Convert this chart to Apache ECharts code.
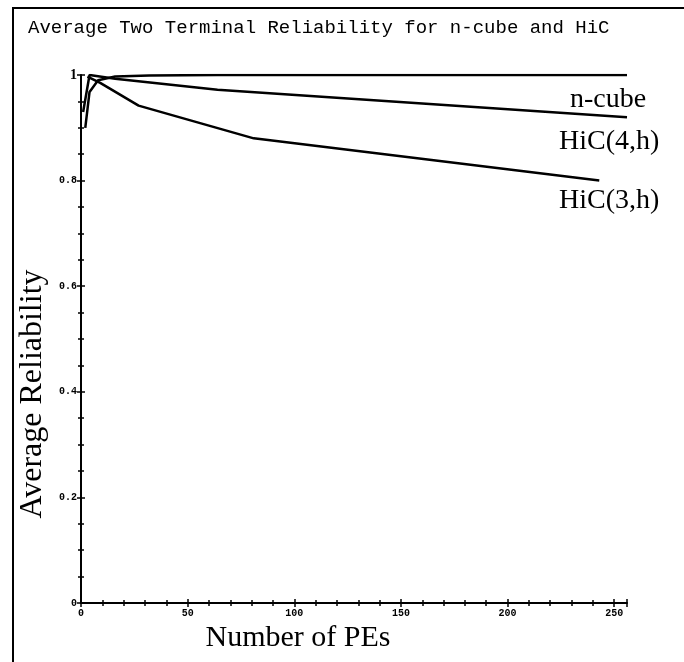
<!DOCTYPE html>
<html><head><meta charset="utf-8">
<script src="https://cdn.jsdelivr.net/npm/echarts@6/dist/echarts.min.js"></script>
<style>html,body{margin:0;padding:0;background:#fff}#c{width:684px;height:662px}</style>
</head><body><div id="c"></div>
<script>
const titleText = "Average Two Terminal Reliability for n-cube and HiC";
const xName = "Number of PEs";
const yName = "Average Reliability";
const seriesNames = ["n-cube", "HiC(4,h)", "HiC(3,h)"];
const ncubeX = [2, 4, 8, 16, 32, 64, 128, 256];
const ncubeY = [0.90, 0.968, 0.99, 0.997, 0.999, 1.0, 1.0, 1.0];
const hic4X = [1, 4, 16, 64, 256];
const hic4Y = [0.93, 1.0, 0.993, 0.972, 0.92];
const hic3X = [3, 9, 27, 81, 243];
const hic3Y = [0.997, 0.985, 0.942, 0.88, 0.80];

const pairs = (xs, ys) => xs.map((x, i) => [x, ys[i]]);
const chart = echarts.init(document.getElementById('c'), null, {renderer: 'canvas'});
const serif = "Liberation Serif";
const mono = "Liberation Mono";
const lineStyle = {color: '#000', width: 2.5};
const mk = (name, data) => ({
  name, type: 'line', data, symbol: 'none', lineStyle, xAxisIndex: 0, yAxisIndex: 0, animation: false
});
const tickLab = {fontFamily: mono, fontSize: 10, fontWeight: 'bold', color: '#000'};
chart.setOption({
  backgroundColor: '#fff',
  animation: false,
  title: {text: titleText, left: 23, top: 13, textStyle: {fontFamily: mono, fontSize: 19, fontWeight: 'normal', color: '#000'}},
  grid: {left: 81, right: 57, top: 75, bottom: 59},
  xAxis: [{
    type: 'value', min: 0, max: 256, interval: 50,
    name: xName, nameLocation: 'middle', nameGap: 18,
    nameTextStyle: {fontFamily: serif, fontSize: 30, color: '#000', padding: [0, 112, 0, 0]},
    axisLine: {lineStyle: {color: '#000', width: 2}},
    axisTick: {length: 4, lineStyle: {color: '#000', width: 1.5}},
    minorTick: {show: true, splitNumber: 5, length: 3, lineStyle: {color: '#000', width: 1.5}},
    splitLine: {show: false},
    axisLabel: Object.assign({margin: 5, showMaxLabel: false}, tickLab)
  }, {
    type: 'value', min: 0, max: 256, interval: 50, position: 'bottom', gridIndex: 0,
    axisLine: {show: false},
    axisTick: {inside: true, length: 4, lineStyle: {color: '#000', width: 1.5}},
    minorTick: {show: true, splitNumber: 5, length: 3, lineStyle: {color: '#000', width: 1.5}},
    splitLine: {show: false}, axisLabel: {show: false}
  }],
  yAxis: [{
    type: 'value', min: 0, max: 1, interval: 0.2,
    name: yName, nameLocation: 'middle', nameGap: 23,
    nameTextStyle: {fontFamily: serif, fontSize: 32, color: '#000', padding: [0, 110, 0, 0]},
    axisLine: {lineStyle: {color: '#000', width: 2}},
    axisTick: {length: 4, lineStyle: {color: '#000', width: 1.5}},
    minorTick: {show: true, splitNumber: 4, length: 3, lineStyle: {color: '#000', width: 1.5}},
    splitLine: {show: false},
    axisLabel: Object.assign({
      margin: 4,
      formatter: v => v === 1 ? '{one|1}' : String(v),
      rich: {one: {fontFamily: serif, fontSize: 14, color: '#000'}}
    }, tickLab)
  }, {
    type: 'value', min: 0, max: 1, interval: 0.2, position: 'left',
    axisLine: {show: false},
    axisTick: {inside: true, length: 4, lineStyle: {color: '#000', width: 1.5}},
    minorTick: {show: true, splitNumber: 4, length: 3, lineStyle: {color: '#000', width: 1.5}},
    splitLine: {show: false}, axisLabel: {show: false}
  }],
  series: [
    mk(seriesNames[0], pairs(ncubeX, ncubeY)),
    mk(seriesNames[1], pairs(hic4X, hic4Y)),
    mk(seriesNames[2], pairs(hic3X, hic3Y))
  ],
  graphic: [
    {type: 'polyline', shape: {points: [[13, 700], [13, 8], [700, 8]]}, style: {stroke: '#000', lineWidth: 2, fill: null}},
    {type: 'text', left: 570, top: 86, style: {text: seriesNames[0], font: '28px "Liberation Serif"', fill: '#000'}},
    {type: 'text', left: 559, top: 128, style: {text: seriesNames[1], font: '28px "Liberation Serif"', fill: '#000'}},
    {type: 'text', left: 559, top: 187, style: {text: seriesNames[2], font: '28px "Liberation Serif"', fill: '#000'}}
  ]
});
</script></body></html>
